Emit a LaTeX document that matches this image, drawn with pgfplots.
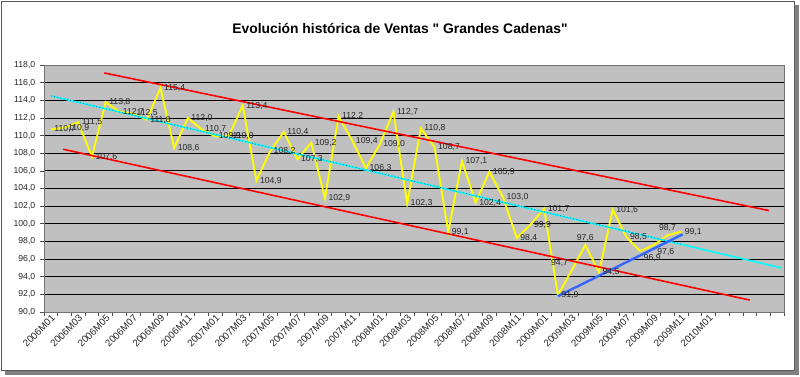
\documentclass[border=0pt]{standalone}
\usepackage{pgfplots}
\pgfplotsset{compat=1.18}
\usepackage{pgfplotstable}
\usepackage{fontspec}
\setmainfont{Liberation Sans}
\newfontfamily\titlefont{Liberation Sans}[Ligatures=TeXOff]
\definecolor{plotbg}{HTML}{C0C0C0}
\definecolor{xlyellow}{HTML}{FFFF00}
\definecolor{xlcyan}{HTML}{00FFFF}
\definecolor{xlred}{HTML}{FF0000}
\definecolor{xlblue}{HTML}{3366FF}
\definecolor{xldots}{HTML}{1F2FA0}

\pgfplotstableread{
x y
0 110.7
1 110.9
2 111.5
3 107.6
4 113.8
5 112.7
6 112.5
7 111.8
8 115.4
9 108.6
10 112.0
11 110.7
12 109.9
13 110.0
14 113.4
15 104.9
16 108.2
17 110.4
18 107.3
19 109.2
20 102.9
21 112.2
22 109.4
23 106.3
24 109.0
25 112.7
26 102.3
27 110.8
28 108.7
29 99.1
30 107.1
31 102.4
32 105.9
33 103.0
34 98.4
35 99.9
36 101.7
37 91.9
}\ventasA

\pgfplotstableread{
x y
37 91.9
38 94.7
39 97.6
40 94.5
41 101.6
42 98.5
43 96.9
44 97.6
45 98.7
46 99.1
}\ventasB

\pgfplotstableread{
x y
40 94.5
41 101.6
42 98.5
46 99.1
}\ventasC

\pgfplotsset{
  lbl/.style={draw=none, mark=none, forget plot, point meta=y,
    nodes near coords={\pgfmathprintnumber[fixed,fixed zerofill,precision=1,use comma,assume math mode=true]{\pgfplotspointmeta}},
    every node near coord/.append style={anchor=#1, font=\fontsize{6.5}{8}\selectfont, text=black!85, inner sep=2.5pt}},
}

\begin{document}
\begin{tikzpicture}[x=1pt,y=1pt]
\useasboundingbox (0,0) rectangle (600,282);
\fill[black!50] (4,0.5) rectangle (599.5,278);
\draw[black!65, fill=white, line width=0.6pt] (1,4) rectangle (596,281);
\node[font=\titlefont\fontsize{10.4}{12}\selectfont\bfseries] at (300,261) {Evolución histórica de Ventas " Grandes Cadenas"};
\begin{axis}[
  at={(33pt,233.25pt)}, anchor=north west,
  scale only axis, width=555pt, height=185.25pt,
  xmin=-0.5, xmax=53.5, ymin=90, ymax=118,
  axis background/.style={fill=plotbg},
  axis line style={black!55, line width=0.6pt},
  ytick={90,92,...,118},
  ymajorgrids, grid style={black, line width=0.6pt},
  yticklabel style={/pgf/number format/fixed, /pgf/number format/fixed zerofill, /pgf/number format/precision=1, /pgf/number format/use comma, /pgf/number format/assume math mode=true, font=\fontsize{6.5}{8}\selectfont, text=black!85},
  xtick={-0.5,0.5,...,53.6},
  xticklabels={},
  extra x ticks={0,2,...,48},
  extra x tick labels={2006M01,2006M03,2006M05,2006M07,2006M09,2006M11,2007M01,2007M03,2007M05,2007M07,2007M09,2007M11,2008M01,2008M03,2008M05,2008M07,2008M09,2008M11,2009M01,2009M03,2009M05,2009M07,2009M09,2009M11,2010M01},
  extra x tick style={major tick length=0pt, grid=none, tick label style={rotate=45, anchor=north east, font=\fontsize{7.3}{8}\selectfont, text=black!85, inner sep=1pt}},
  tick align=outside, major tick length=3pt,
  tick pos=left,
  tick style={black!70, line width=0.5pt},
  clip=true,
]
\addplot[xlyellow, line width=1.4pt, mark=none] table[x=x,y=y]{\ventasA};
\addplot[xlyellow, line width=1.4pt, mark=none, forget plot] table[x=x,y=y]{\ventasB};
\addplot[xlred, line width=1.2pt, mark=none] coordinates {(3.9,117.1) (52.4,101.5)};
\addplot[xlred, line width=1.2pt, mark=none] coordinates {(0.9,108.45) (51,91.35)};
\addplot[xlcyan, line width=1.2pt, mark=none] coordinates {(0,114.5) (53.3,95.0)};
\addplot[xldots, dotted, line width=0.5pt, mark=none] coordinates {(0,114.5) (46,97.7)};
\addplot[xlblue, line width=1.8pt, mark=none] coordinates {(37,91.8) (46.1,98.8)};
% data labels
\addplot[lbl=west] table[x=x,y=y]{\ventasA};
\addplot[lbl=west] table[x=x,y=y]{\ventasC};
\addplot[lbl=south east] coordinates {(38,94.7)};
\addplot[lbl=south] coordinates {(39,97.6) (45,98.7)};
\addplot[lbl=north west] coordinates {(43,96.9) (44,97.6)};
\end{axis}
\end{tikzpicture}
\end{document}
